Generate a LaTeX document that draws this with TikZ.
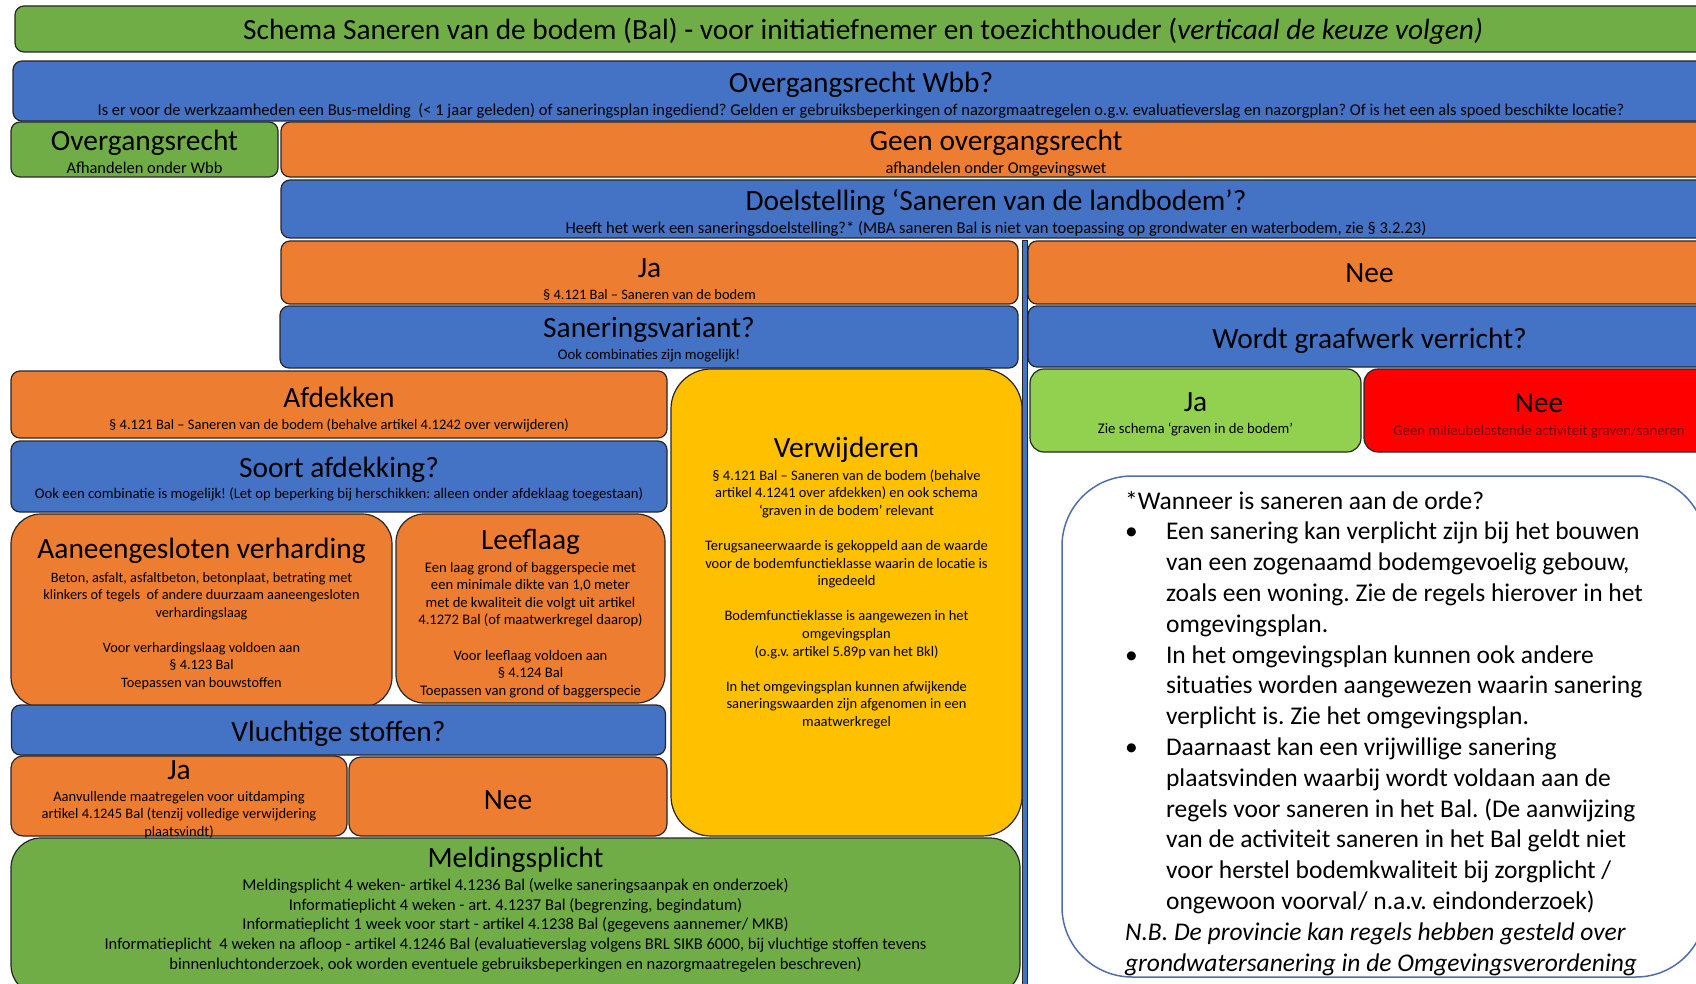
\documentclass[tikz,border=0pt]{standalone}
\usepackage{fontspec}
\setmainfont{Carlito}
\usepackage{tikz}

\definecolor{groen}{HTML}{70AD47}
\definecolor{blauw}{HTML}{4472C4}
\definecolor{oranje}{HTML}{ED7D31}
\definecolor{geel}{HTML}{FFC000}
\definecolor{lichtgroen}{HTML}{92D050}
\definecolor{rood}{HTML}{FF0000}
\definecolor{donkerrood}{HTML}{7A0000}
\definecolor{rand}{HTML}{262626}
\definecolor{notarand}{HTML}{4F6FA8}

\newcommand{\kop}{\fontsize{29.4}{30}\selectfont}

\begin{document}
\frenchspacing
\begin{tikzpicture}[x=1pt, y=-1pt,
    blok/.style={draw=rand, line width=1.2pt, rounded corners=9pt, inner sep=0pt,
      align=center, text depth=0pt, font=\fontsize{15}{18}\selectfont}]
  \useasboundingbox (0,0) rectangle (1696,984);
  \clip (0,0) rectangle (1696,984);

  % titel en overgangsrecht
  \node[blok, fill=groen, minimum width=1696pt, minimum height=46pt,
    font=\fontsize{29.3}{30}\selectfont] (titel) at (863,29)
    {Schema Saneren van de bodem (Bal) - voor initiatiefnemer en toezichthouder (\textit{verticaal de keuze volgen)}};
  \node[blok, fill=blauw, minimum width=1696pt, minimum height=60pt, text height=50pt,
    font=\fontsize{16.5}{18}\selectfont] (wbb) at (861,91)
    {{\kop Overgangsrecht Wbb?}\\[5.4pt]
     Is er voor de werkzaamheden een Bus-melding \ (< 1 jaar geleden) of saneringsplan ingediend? Gelden er gebruiksbeperkingen of nazorgmaatregelen o.g.v. evaluatieverslag en nazorgplan? Of is het een als spoed beschikte locatie?};
  \node[blok, fill=groen, minimum width=267pt, minimum height=55pt, text height=48.6pt,
    font=\fontsize{16.4}{18}\selectfont] (overg) at (144.5,149.5)
    {{\kop Overgangsrecht}\\[5.4pt] Afhandelen onder Wbb};
  \node[blok, fill=oranje, minimum width=1430pt, minimum height=55pt, text height=48.6pt,
    font=\fontsize{16.4}{18}\selectfont] (geen) at (996,149.5)
    {{\kop Geen overgangsrecht}\\[5.4pt] afhandelen onder Omgevingswet};
  \node[blok, fill=blauw, minimum width=1430pt, minimum height=58pt, text height=49.6pt,
    font=\fontsize{16.5}{18}\selectfont] (doel) at (996,209)
    {{\kop Doelstelling ‘Saneren van de landbodem’?}\\[5.4pt]
     Heeft het werk een saneringsdoelstelling?* (MBA saneren Bal is niet van toepassing op grondwater en waterbodem, zie § 3.2.23)};

  % ja / nee
  \node[blok, fill=oranje, minimum width=737pt, minimum height=63pt, text height=54.6pt,
    font=\fontsize{14.4}{18}\selectfont] (ja) at (649.5,272.5)
    {{\kop Ja}\\[4.3pt] § 4.121 Bal – Saneren van de bodem};
  \node[blok, fill=oranje, minimum width=683pt, minimum height=63pt, text height=21pt] (nee) at (1369.5,272.5)
    {{\kop Nee}};
  \node[blok, fill=blauw, minimum width=738pt, minimum height=62pt, text height=45.8pt,
    font=\fontsize{14.7}{18}\selectfont] (variant) at (649,337)
    {{\kop Saneringsvariant?}\\[4.4pt] Ook combinaties zijn mogelijk!};
  \node[blok, fill=blauw, minimum width=683pt, minimum height=61pt, text height=23pt] (graafwerk) at (1369.5,336.5)
    {{\kop Wordt graafwerk verricht?}};
  \node[blok, fill=lichtgroen, rounded corners=14pt, minimum width=331pt, minimum height=83pt,
    text height=45.8pt, font=\fontsize{14.7}{18}\selectfont] (jagraaf) at (1195.5,410.5)
    {{\kop Ja}\\[4.3pt] Zie schema ‘graven in de bodem’};
  \node[blok, fill=rood, rounded corners=14pt, minimum width=350pt, minimum height=83pt,
    text height=50.2pt, font=\fontsize{14.8}{18}\selectfont] (neegraaf) at (1539,410.5)
    {{\kop Nee}\\[5.4pt] \textcolor{donkerrood}{Geen milieubelastende activiteit graven/saneren}};

  % afdekken
  \node[blok, fill=oranje, minimum width=656pt, minimum height=67pt, text height=50.2pt,
    font=\fontsize{14.5}{18}\selectfont] (afdek) at (339,404.5)
    {{\kop Afdekken}\\[4.4pt] § 4.121 Bal – Saneren van de bodem (behalve artikel 4.1242 over verwijderen)};
  \node[blok, fill=blauw, minimum width=656pt, minimum height=71pt, text height=44.6pt,
    font=\fontsize{14.7}{18}\selectfont] (soort) at (339,476.5)
    {{\kop Soort afdekking?}\\[3.2pt] Ook een combinatie is mogelijk! (Let op beperking bij herschikken: alleen onder afdeklaag toegestaan)};
  \node[blok, fill=oranje, rounded corners=30pt, minimum width=381pt, minimum height=193pt,
    text height=153pt, font=\fontsize{14.3}{17.5}\selectfont] (verharding) at (201.5,610.5)
    {{\kop Aaneengesloten verharding}\\[5.9pt]
     Beton, asfalt, asfaltbeton, betonplaat, betrating met\\
     klinkers of tegels \ of andere duurzaam aaneengesloten\\
     verhardingslaag\\[17.5pt]
     Voor verhardingslaag voldoen aan\\
     § 4.123 Bal\\
     Toepassen van bouwstoffen};
  \node[blok, fill=oranje, rounded corners=28pt, minimum width=269pt, minimum height=189pt,
    text height=173.4pt, font=\fontsize{14.6}{17.6}\selectfont] (leeflaag) at (530.5,608.5)
    {{\kop Leeflaag}\\[4.8pt]
     Een laag grond of baggerspecie met\\
     een minimale dikte van 1,0 meter\\
     met de kwaliteit die volgt uit artikel\\
     4.1272 Bal (of maatwerkregel daarop)\\[17.6pt]
     Voor leeflaag voldoen aan\\
     § 4.124 Bal\\
     Toepassen van grond of baggerspecie};

  % verwijderen
  \node[blok, fill=geel, rounded corners=40pt, minimum width=351pt, minimum height=467pt,
    text height=248pt, font=\fontsize{14.5}{17.6}\selectfont] (verwijder) at (846.5,602.5)
    {{\kop Verwijderen}\\[4.8pt]
     § 4.121 Bal – Saneren van de bodem (behalve\\
     artikel 4.1241 over afdekken) en ook schema\\
     ‘graven in de bodem’ relevant\\[17.6pt]
     Terugsaneerwaarde is gekoppeld aan de waarde\\
     voor de bodemfunctieklasse waarin de locatie is\\
     ingedeeld\\[17.6pt]
     Bodemfunctieklasse is aangewezen in het\\
     omgevingsplan\\
     (o.g.v. artikel 5.89p van het Bkl)\\[17.6pt]
     In het omgevingsplan kunnen afwijkende\\
     saneringswaarden zijn afgenomen in een\\
     maatwerkregel};

  % vluchtige stoffen
  \node[blok, fill=blauw, minimum width=654pt, minimum height=50pt, text height=23pt] (vluchtig) at (338.5,730)
    {{\kop Vluchtige stoffen?}};
  \node[blok, fill=oranje, rounded corners=12pt, minimum width=336pt, minimum height=80pt,
    text height=80pt, font=\fontsize{14.5}{17.3}\selectfont] (javl) at (179,796)
    {{\kop Ja}\\[5.1pt]
     Aanvullende maatregelen voor uitdamping\\
     artikel 4.1245 Bal (tenzij volledige verwijdering\\
     plaatsvindt)};
  \node[blok, fill=oranje, rounded corners=12pt, minimum width=318pt, minimum height=79pt,
    text height=25pt] (neevl) at (508,796.5)
    {{\kop Nee}};

  % melding
  \node[blok, fill=groen, rounded corners=30pt, minimum width=1009pt, minimum height=157pt,
    text height=105.7pt, font=\fontsize{16.5}{19.7}\selectfont] (melding) at (515.5,916.5)
    {{\kop Meldingsplicht}\\[3.7pt]
     Meldingsplicht 4 weken- artikel 4.1236 Bal (welke saneringsaanpak en onderzoek)\\
     Informatieplicht 4 weken - art. 4.1237 Bal (begrenzing, begindatum)\\
     Informatieplicht 1 week voor start - artikel 4.1238 Bal (gegevens aannemer/ MKB)\\
     Informatieplicht \ 4 weken na afloop - artikel 4.1246 Bal (evaluatieverslag volgens BRL SIKB 6000, bij vluchtige stoffen tevens\\
     binnenluchtonderzoek, ook worden eventuele gebruiksbeperkingen en nazorgmaatregelen beschreven)};

  \node[fill=blauw, draw=rand, line width=0.8pt, inner sep=0pt,
    minimum width=5pt, minimum height=755pt] (streep) at (1024.5,617.5) {};

  % toelichting
  \node[blok, fill=white, draw=notarand, line width=1.5pt, rounded corners=70pt,
    minimum width=644pt, minimum height=501pt, inner xsep=61pt, text height=489pt,
    align=left, font=\fontsize{25.5}{30.8}\selectfont] (nota) at (1384,726.5)
    {*Wanneer is saneren aan de orde?\\
     \makebox[41pt][l]{•}Een sanering kan verplicht zijn bij het bouwen\\
     \hspace*{41pt}van een zogenaamd bodemgevoelig gebouw,\\
     \hspace*{41pt}zoals een woning. Zie de regels hierover in het\\
     \hspace*{41pt}omgevingsplan.\\
     \makebox[41pt][l]{•}In het omgevingsplan kunnen ook andere\\
     \hspace*{41pt}situaties worden aangewezen waarin sanering\\
     \hspace*{41pt}verplicht is. Zie het omgevingsplan.\\
     \makebox[41pt][l]{•}Daarnaast kan een vrijwillige sanering\\
     \hspace*{41pt}plaatsvinden waarbij wordt voldaan aan de\\
     \hspace*{41pt}regels voor saneren in het Bal. (De aanwijzing\\
     \hspace*{41pt}van de activiteit saneren in het Bal geldt niet\\
     \hspace*{41pt}voor herstel bodemkwaliteit bij zorgplicht /\\
     \hspace*{41pt}ongewoon voorval/ n.a.v. eindonderzoek)\\
     \textit{N.B. De provincie kan regels hebben gesteld over}\\
     \textit{grondwatersanering in de Omgevingsverordening}};
\end{tikzpicture}
\end{document}
